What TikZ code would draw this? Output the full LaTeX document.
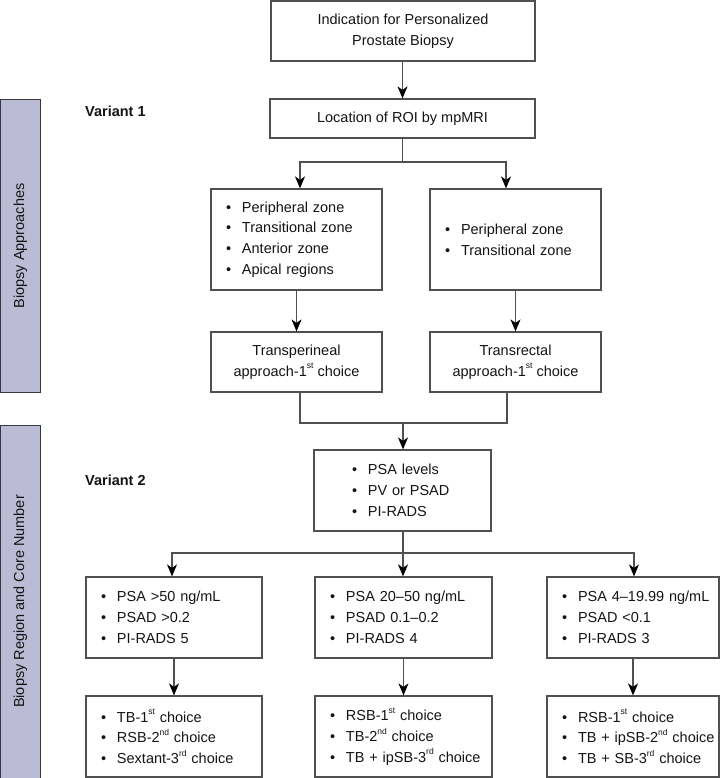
\documentclass[tikz,border=0pt]{standalone}
\usepackage{fontspec}
\setmainfont{Liberation Sans}
\usetikzlibrary{arrows.meta}
\definecolor{linec}{RGB}{80,80,80}
\definecolor{txt}{RGB}{20,20,20}
\definecolor{barc}{RGB}{188,187,214}
\definecolor{barline}{RGB}{55,55,65}
\newcommand\fsz{\fontsize{14.5}{20.7}\selectfont}
\newcommand\bitem[1]{\mbox{\makebox[16pt][l]{\textbullet}#1}}
\newcommand\sps[1]{\raisebox{0.5em}{\fontsize{8.5}{8.5}\selectfont #1}}
\tikzset{
  box/.style={draw=linec, line width=1.2pt, text=txt, font=\fsz, inner ysep=0pt},
  cbox/.style={box, align=center, inner xsep=0pt},
  bbox/.style={box, align=left, inner xsep=15pt, text width=#1},
  conn/.style={draw=linec, line width=1.2pt},
  arr/.style={conn, -{Stealth[length=12pt,width=10pt,inset=3.5pt,fill=black,color=black]}},
  bar/.style={fill=barc, draw=barline, line width=1pt, text=txt, font=\fsz, inner sep=0pt},
  lab/.style={font=\fsz\bfseries, text=txt, anchor=west, inner sep=0pt}
}
\begin{document}
\begin{tikzpicture}[x=1pt,y=-1pt]
\useasboundingbox (0,0) rectangle (724,778);

% side bars
\node[bar, rotate=90, minimum width=292pt, minimum height=40pt] (bar1) at (20.5,246) {Biopsy Approaches};
\node[bar, rotate=90, minimum width=353pt, minimum height=40pt] (bar2) at (20.5,601.5) {Biopsy Region and Core Number};

% variant labels
\node[lab] (var1) at (85,111.5) {Variant 1};
\node[lab] (var2) at (85,480) {Variant 2};

% boxes
\node[cbox, minimum width=264pt, minimum height=60pt] (top) at (403,31) {Indication for Personalized\\Prostate Biopsy};
\node[cbox, minimum width=265pt, minimum height=39pt] (roi) at (402.5,118.5) {Location of ROI by mpMRI};

\node[bbox=141pt, minimum height=101pt] (v1l) at (296.5,239.5) {\bitem{Peripheral zone}\\\bitem{Transitional zone}\\\bitem{Anterior zone}\\\bitem{Apical regions}};
\node[bbox=141pt, minimum height=101pt] (v1r) at (515.5,239.5) {\bitem{Peripheral zone}\\\bitem{Transitional zone}};

\node[cbox, minimum width=171pt, minimum height=60pt] (tp) at (296.5,362) {Transperineal\\approach-1\sps{st} choice};
\node[cbox, minimum width=171pt, minimum height=60pt] (tr) at (515.5,362) {Transrectal\\approach-1\sps{st} choice};

\node[box, align=left, inner xsep=38pt, text width=101pt, minimum height=81pt] (psa) at (402.5,490.5) {\bitem{PSA levels}\\\bitem{PV or PSAD}\\\bitem{PI-RADS}};

\node[bbox=146pt, minimum height=81pt] (m1) at (174,617.5) {\bitem{PSA >50 ng/mL}\\\bitem{PSAD >0.2}\\\bitem{PI-RADS 5}};
\node[bbox=147pt, minimum height=81pt] (m2) at (403.5,617.5) {\bitem{PSA 20–50 ng/mL}\\\bitem{PSAD 0.1–0.2}\\\bitem{PI-RADS 4}};
\node[bbox=142pt, minimum height=81pt] (m3) at (633,617.5) {\bitem{PSA 4–19.99 ng/mL}\\\bitem{PSAD <0.1}\\\bitem{PI-RADS 3}};

\node[bbox=146pt, minimum height=81pt] (b1) at (174,736.5) {\bitem{TB-1\sps{st} choice}\\\bitem{RSB-2\sps{nd} choice}\\\bitem{Sextant-3\sps{rd} choice}};
\node[bbox=147pt, minimum height=81pt] (b2) at (403.5,736.5) {\bitem{RSB-1\sps{st} choice}\\\bitem{TB-2\sps{nd} choice}\\\bitem{TB + ipSB-3\sps{rd} choice}};
\node[bbox=142pt, minimum height=81pt] (b3) at (633,736.5) {\bitem{RSB-1\sps{st} choice}\\\bitem{TB + ipSB-2\sps{nd} choice}\\\bitem{TB + SB-3\sps{rd} choice}};

% helper coordinates
\coordinate (s1) at (402.5,162);
\coordinate (xl1) at (300,0);
\coordinate (xr1) at (506,0);
\coordinate (j1) at (403,423);
\coordinate (xl2) at (300,0);
\coordinate (xr2) at (507,0);
\coordinate (s2) at (403,553);
\coordinate (xa) at (172,0);
\coordinate (xc) at (634,0);

% connectors
\draw[arr] (top.south -| roi.north) -- (roi.north);
\draw[conn] (roi.south) -- (s1);
\draw[arr] (s1) -| (v1l.north -| xl1);
\draw[arr] (s1) -| (v1r.north -| xr1);
\draw[arr] (v1l.south) -- (tp.north);
\draw[arr] (v1r.south) -- (tr.north);
\draw[conn] (tp.south -| xl2) |- (j1) -| (tr.south -| xr2);
\draw[arr] (j1) -- (psa.north -| j1);
\draw[conn] (psa.south -| s2) -- (s2);
\draw[arr] (s2) -| (m1.north -| xa);
\draw[arr] (s2) -- (m2.north -| s2);
\draw[arr] (s2) -| (m3.north -| xc);
\draw[arr] (m1.south) -- (b1.north);
\draw[arr] (m2.south) -- (b2.north);
\draw[arr] (m3.south) -- (b3.north);
\end{tikzpicture}
\end{document}
